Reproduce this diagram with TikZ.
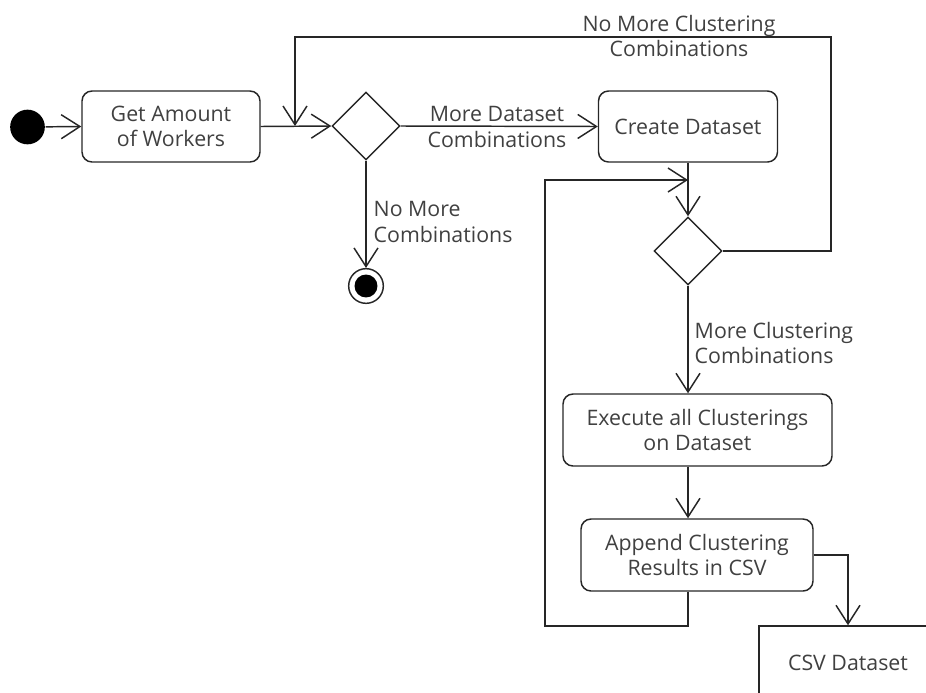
\documentclass[tikz,border=0pt]{standalone}
\usepackage{fontspec}
\setmainfont{Open Sans}
\usetikzlibrary{arrows.meta,shapes.geometric}
\begin{document}
\begin{tikzpicture}[x=0.75pt,y=-0.75pt,
  line width=1.1pt,
  font=\fontsize{16pt}{19pt}\selectfont, text=black!75,
  wire/.style={draw=black!85},
  flow/.style={wire, -{Straight Barb[length=14pt,width=18pt]}},
  action/.style={draw=black!85, rounded corners=7.5pt, align=center, inner sep=0pt},
  decision/.style={draw=black!85, diamond, aspect=1, minimum width=51pt, minimum height=51pt, inner sep=0pt},
  initial/.style={circle, fill=black, minimum size=26pt, inner sep=0pt},
  final/.style={circle, draw=black!85, minimum size=26pt, inner sep=0pt,
    path picture={\fill[black] (path picture bounding box.center) circle (8.6pt);}},
  guard/.style={align=center, inner sep=0pt}]
\clip (0,0) rectangle (926,693);

% activity nodes
\node[initial] (start) at (27.5,127) {};
\node[action, minimum width=133.5pt, minimum height=53.25pt] (getw) at (171,126.5) {Get Amount\\of Workers};
\node[decision] (d1) at (366,126) {};
\node[action, minimum width=134.25pt, minimum height=53.25pt] (create) at (688,126.5) {Create Dataset};
\node[decision] (d2) at (688,251) {};
\node[action, minimum width=201.75pt, minimum height=54pt] (exec) at (697.5,430) {Execute all Clusterings\\on Dataset};
\node[action, minimum width=174pt, minimum height=54pt] (append) at (697,555) {Append Clustering\\Results in CSV};
\node[draw=black!85, minimum width=133.5pt, minimum height=55.5pt, inner sep=0pt] (csv) at (848,663) {CSV Dataset};
\node[final] (fin) at (366,286) {};

% bend points of the two loops
\coordinate (rt) at (831,37);
\coordinate (lt) at (295,37);
\coordinate (j) at (295,126);
\coordinate (lb) at (545,626);
\coordinate (lu) at (545,180);
\coordinate (m) at (688,180);

% control flow
\draw[flow] (start) -- (getw.west);
\draw[flow] (getw.east) -- (d1.west);
\draw[flow] (d1.east) -- (create.west);
\draw[flow] (d1.south) -- (fin.north);
\draw[flow] (create.south) -- (d2.north);
\draw[flow] (d2.south) -- (d2.south |- exec.north);
\draw[flow] (exec.south -| d2.south) -- (append.north -| d2.south);
\draw[flow] (append.south -| d2.south) |- (lb) -- (lu) -- (m);
\draw[flow] (d2.east) -| (rt) -- (lt) -- (j);
\draw[flow] (append.east) -| (csv.north);

% guards
\node[guard] (g1) at (497,127) {More Dataset\\Combinations};
\node[guard, align=left, anchor=west] (g2) at (373,222) {No More\\Combinations};
\node[guard, align=left, anchor=west] (g3) at (694,343) {More Clustering\\Combinations};
\node[guard] (g4) at (679,36) {No More Clustering\\Combinations};
\end{tikzpicture}
\end{document}
